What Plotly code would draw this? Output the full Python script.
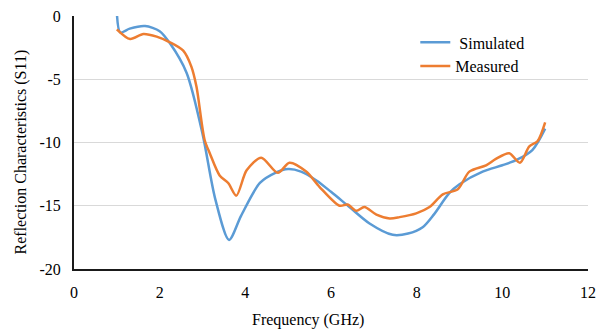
import plotly.graph_objects as go

sim_freq = [1.0, 1.08, 1.3, 1.66, 2.0, 2.24, 2.63, 3.0, 3.3, 3.62, 3.9, 4.34, 4.7, 5.0, 5.3,
            5.66, 6.0, 6.43, 6.9, 7.44, 7.8, 8.14, 8.4, 8.76, 9.0, 9.54, 10.0, 10.32, 10.7, 11.0]
sim_s11 = [0.3, -1.3, -1.0, -0.8, -1.2, -2.16, -4.5, -9.3, -14.5, -17.7, -15.8, -13.2, -12.4, -12.1, -12.3,
           -13.0, -13.9, -15.1, -16.4, -17.3, -17.2, -16.7, -15.7, -14.0, -13.3, -12.3, -11.8, -11.4, -10.6, -8.9]

meas_freq = [1.0, 1.31, 1.62, 1.93, 2.24, 2.55, 2.74, 2.86, 3.05, 3.17, 3.40, 3.6, 3.79, 4.03, 4.37,
             4.76, 5.03, 5.42, 5.73, 6.2, 6.39, 6.59, 6.78, 7.06, 7.37, 7.6, 7.99, 8.3, 8.61, 8.96,
             9.23, 9.62, 9.85, 10.16, 10.41, 10.63, 10.82, 11.0]
meas_s11 = [-1.05, -1.82, -1.42, -1.63, -2.08, -2.74, -4.0, -5.6, -9.8, -10.85, -12.6, -13.2, -14.2, -12.2, -11.2,
            -12.4, -11.6, -12.3, -13.5, -15.0, -14.9, -15.4, -15.1, -15.7, -16.0, -15.9, -15.6, -15.1, -14.1, -13.7,
            -12.3, -11.8, -11.3, -10.85, -11.6, -10.3, -9.9, -8.4]

x_ticks = [0, 2, 4, 6, 8, 10, 12]
y_ticks = [0, -5, -10, -15, -20]

FONT = "Liberation Serif, Times New Roman, Tinos, DejaVu Serif, serif"

fig = go.Figure()
fig.add_trace(go.Scatter(x=sim_freq, y=sim_s11, mode="lines", name="\u00a0Simulated",
                         line=dict(color="#5B9BD5", width=2.5, shape="spline", smoothing=0.8)))
fig.add_trace(go.Scatter(x=meas_freq, y=meas_s11, mode="lines", name="Measured",
                         line=dict(color="#ED7D31", width=2.5, shape="spline", smoothing=0.8)))

fig.update_layout(
    width=597, height=330,
    margin=dict(l=73.5, r=8.5, t=15.5, b=61, autoexpand=False),
    paper_bgcolor="white", plot_bgcolor="white",
    font=dict(family=FONT, size=16, color="#000000"),
    showlegend=True,
    legend=dict(x=0.664, y=0.963, xanchor="left", yanchor="top",
                bgcolor="rgba(0,0,0,0)", font=dict(family=FONT, size=16),
                tracegroupgap=0, itemwidth=30),
    annotations=[
        dict(text="Frequency (GHz)", xref="paper", yref="paper", x=0.455, y=-0.2,
             xanchor="center", yanchor="middle", showarrow=False,
             font=dict(family=FONT, size=16)),
        dict(text="Reflection Characteristics (S11)", xref="paper", yref="paper",
             x=-0.103, y=0.461, xanchor="center", yanchor="middle", textangle=-90,
             showarrow=False, font=dict(family=FONT, size=16)),
    ],
)
fig.update_xaxes(range=[0, 12], tickvals=x_ticks, ticktext=[str(v) for v in x_ticks],
                 showgrid=False, zeroline=False, showline=True, linecolor="#1a1a1a", linewidth=2,
                 ticks="", ticklabelstandoff=8)
fig.update_yaxes(range=[-20, 0], tickvals=y_ticks, ticktext=[str(v) for v in y_ticks],
                 showgrid=True, gridcolor="#d9d9d9", gridwidth=1, zeroline=False,
                 showline=True, linecolor="#1a1a1a", linewidth=2, ticks="", ticklabelstandoff=8)

fig.write_html("out.html", config={"displayModeBar": False},
               post_script="document.body.style.margin='0';document.body.style.padding='0';")
